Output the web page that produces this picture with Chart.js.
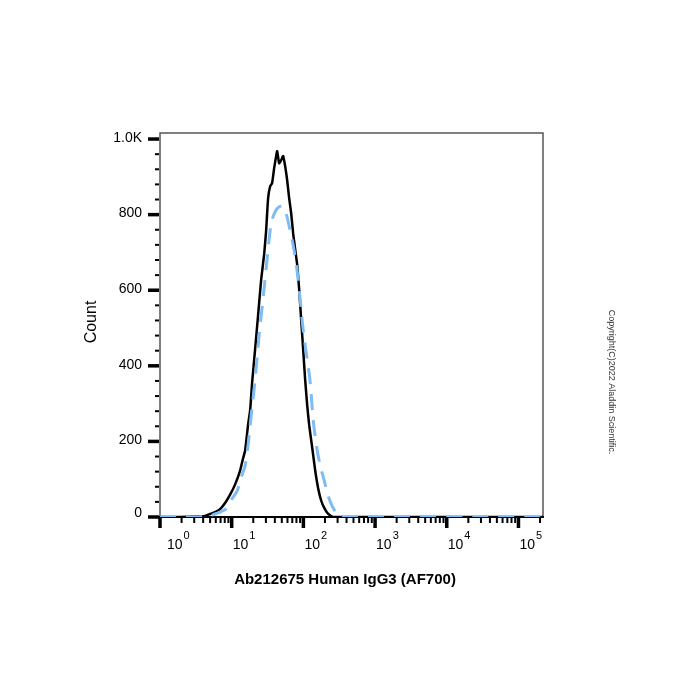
<!DOCTYPE html>
<html>
<head>
<meta charset="utf-8">
<script src="https://cdn.jsdelivr.net/npm/chart.js@4"></script>
<style>
html, body { margin: 0; padding: 0; background: #fff; }
</style>
</head>
<body>
<canvas id="chart" width="700" height="700"></canvas>
<script>
// sample (solid black) histogram
const xSolid = [1, 1.9, 3.08, 4.25, 4.99, 5.86, 6.89, 8.09, 9.5, 11.1, 13.1, 14.4, 15.4, 16.9, 18.1, 19.3,
  21.2, 23.4, 25.8, 28.4, 30.2, 32.2, 34.4, 36.6, 39.1, 41.7, 43.1, 45.9, 49.0, 52.2, 55.7, 59.4, 63.4,
  67.6, 72.1, 76.7, 81.8, 87.3, 93.1, 99.3, 105.9, 113, 120.5, 132.7, 146.2, 161.1, 177.4, 195.4, 221.8,
  260.6, 1000, 10000, 100000, 220000];
const ySolid = [0, 0, 1, 3, 8, 13, 21, 37, 59, 85, 123, 155, 176, 243, 283, 357,
  443, 536, 629, 696, 757, 843, 875, 883, 923, 955, 968, 936, 944, 955, 928, 891, 843,
  803, 749, 709, 669, 603, 523, 443, 363, 296, 243, 184, 123, 75, 43, 24, 8,
  0, 0, 0, 0, 0];

// control (dashed blue) histogram
const xDashed = [1, 3.08, 3.98, 4.99, 5.86, 6.89, 8.63, 10.1, 11.9, 13.5, 15.4, 16.9, 18.7, 21.2, 24.2,
  27.5, 31.2, 35.5, 40.4, 45.9, 52.2, 57.5, 65.5, 74.5, 81.8, 90.2, 99.3, 113, 124.5, 137.1, 156,
  171.8, 195.4, 221.8, 252.3, 287.1, 326.6, 220000];
const yDashed = [0, 0, 1, 3, 8, 13, 24, 48, 69, 104, 136, 189, 269, 363, 483,
  581, 683, 776, 808, 821, 821, 803, 757, 704, 651, 576, 496, 416, 357, 256, 176,
  136, 96, 56, 29, 11, 0, 0];

const xDecades = [1, 10, 100, 1000, 10000, 100000];
const xExponents = ['0', '1', '2', '3', '4', '5'];
const yMajorTicks = [0, 200, 400, 600, 800, 1000];
const yTickLabels = ['0', '200', '400', '600', '800', '1.0K'];
const yMinorStep = 40;

const xTitle = 'Ab212675 Human IgG3 (AF700)';
const yTitle = 'Count';
const copyright = 'Copyright(C)2022 Aladdin Scientific.';

const FONT = '"Liberation Sans", Arial, sans-serif';
const toPoints = (xs, ys) => xs.map((x, i) => ({ x: x, y: ys[i] }));

// axis ticks, labels, frame and titles
const decorations = {
  id: 'decorations',
  beforeDatasetsDraw(chart) {
    const ctx = chart.ctx;
    const a = chart.chartArea;
    ctx.save();
    // frame
    ctx.strokeStyle = '#555';
    ctx.lineWidth = 1.5;
    ctx.beginPath();
    ctx.moveTo(a.left, a.bottom);
    ctx.lineTo(a.left, a.top);
    ctx.lineTo(a.right, a.top);
    ctx.lineTo(a.right, a.bottom);
    ctx.stroke();
    ctx.strokeStyle = '#000';
    ctx.lineWidth = 2;
    ctx.beginPath();
    ctx.moveTo(a.left - 1, a.bottom);
    ctx.lineTo(a.right + 1, a.bottom);
    ctx.stroke();
    ctx.restore();
  },
  afterDatasetsDraw(chart) {
    const ctx = chart.ctx;
    const a = chart.chartArea;
    const xs = chart.scales.x;
    const ys = chart.scales.y;
    ctx.save();

    // x ticks
    ctx.strokeStyle = '#000';
    xDecades.forEach(d => {
      const px = xs.getPixelForValue(d);
      ctx.lineWidth = 3.5;
      ctx.beginPath();
      ctx.moveTo(px, a.bottom);
      ctx.lineTo(px, a.bottom + 11);
      ctx.stroke();
      for (let m = 2; m <= 9; m++) {
        const v = d * m;
        if (v > xs.max) break;
        const p = xs.getPixelForValue(v);
        ctx.lineWidth = 2;
        ctx.beginPath();
        ctx.moveTo(p, a.bottom + 1);
        ctx.lineTo(p, a.bottom + 6);
        ctx.stroke();
      }
    });

    // x labels
    ctx.fillStyle = '#000';
    ctx.textBaseline = 'alphabetic';
    ctx.textAlign = 'left';
    xDecades.forEach((d, i) => {
      const px = xs.getPixelForValue(d) + (i === 0 ? 7 : 1);
      ctx.font = '14px ' + FONT;
      ctx.fillText('10', px, 549);
      const w = ctx.measureText('10').width;
      ctx.font = '11px ' + FONT;
      ctx.fillText(xExponents[i], px + w + 1, 539);
    });

    // y ticks
    for (let v = 0; v <= ys.max; v += yMinorStep) {
      const py = ys.getPixelForValue(v);
      const major = yMajorTicks.includes(v);
      ctx.lineWidth = major ? 3.5 : 2;
      ctx.beginPath();
      ctx.moveTo(a.left - 1, py);
      ctx.lineTo(a.left - (major ? 12 : 5), py);
      ctx.stroke();
    }

    // y labels
    ctx.textAlign = 'right';
    ctx.textBaseline = 'middle';
    ctx.font = '14px ' + FONT;
    yMajorTicks.forEach((v, i) => {
      const py = ys.getPixelForValue(v);
      ctx.fillText(yTickLabels[i], 142, py - (v === 0 ? 4 : 1));
    });

    // titles
    ctx.textAlign = 'center';
    ctx.font = 'bold 15px ' + FONT;
    ctx.fillText(xTitle, 345, 580);
    ctx.save();
    ctx.translate(92, 322);
    ctx.rotate(-Math.PI / 2);
    ctx.font = '16px ' + FONT;
    ctx.fillText(yTitle, 0, 0);
    ctx.restore();

    ctx.save();
    ctx.translate(611, 382);
    ctx.rotate(Math.PI / 2);
    ctx.fillStyle = '#333';
    ctx.font = '9px ' + FONT;
    ctx.fillText(copyright, 0, 0);
    ctx.restore();

    ctx.restore();
  }
};

new Chart(document.getElementById('chart').getContext('2d'), {
  type: 'line',
  data: {
    datasets: [
      {
        label: 'Control',
        data: toPoints(xDashed, yDashed),
        borderColor: '#7dbcf4',
        borderWidth: 3,
        borderDash: [16, 10],
        pointRadius: 0,
        tension: 0.3,
        fill: false
      },
      {
        label: 'Ab212675',
        data: toPoints(xSolid, ySolid),
        borderColor: '#000',
        borderWidth: 2.5,
        pointRadius: 0,
        tension: 0.15,
        fill: false
      }
    ]
  },
  options: {
    responsive: false,
    animation: false,
    devicePixelRatio: 1,
    layout: { padding: { left: 160, right: 157, top: 133, bottom: 183 } },
    plugins: { legend: { display: false }, tooltip: { enabled: false } },
    scales: {
      x: {
        type: 'logarithmic',
        min: 1,
        max: 220000,
        grid: { display: false, drawTicks: false },
        border: { display: false },
        ticks: { display: false },
        afterFit: s => { s.height = 0; }
      },
      y: {
        type: 'linear',
        min: 0,
        max: 1016,
        grid: { display: false, drawTicks: false },
        border: { display: false },
        ticks: { display: false },
        afterFit: s => { s.width = 0; }
      }
    }
  },
  plugins: [decorations]
});
</script>
</body>
</html>
